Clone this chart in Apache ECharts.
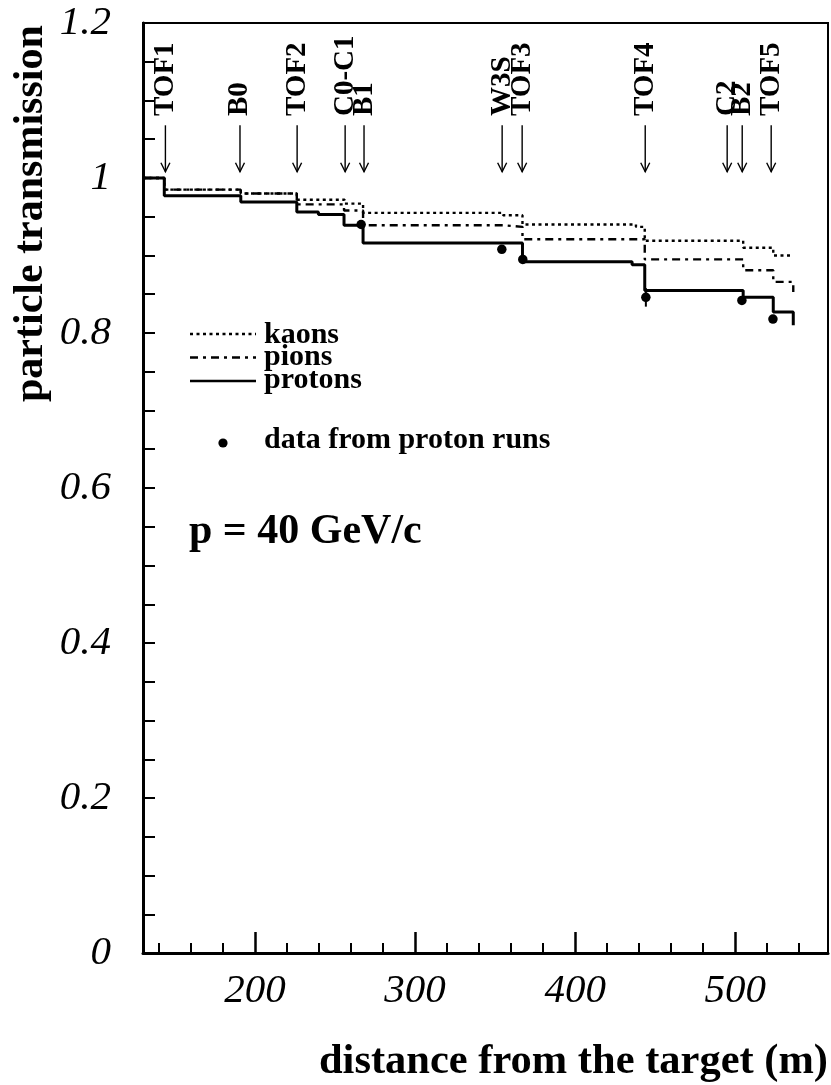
<!DOCTYPE html>
<html><head><meta charset="utf-8">
<script src="https://cdn.jsdelivr.net/npm/echarts@6/dist/echarts.min.js"></script>
<style>html,body{margin:0;padding:0;background:#fff}#c{width:831px;height:1085px}</style>
</head><body><div id="c"></div>
<script>
// detector positions along the beam line (m)
const detectorNames = ['TOF1','B0','TOF2','C0-C1','B1','W3S','TOF3','TOF4','C2','B2','TOF5'];
const detectorPos   = [144, 190.6, 226.3, 256.3, 268.1, 354.4, 366.9, 443.8, 495, 504.4, 522.5];

// step curves: value holds from x[i] to x[i+1]
const kaonX   = [130, 143.3, 191.1, 226.1, 256.0, 267.5, 355.0, 367.1, 438.0, 443.5, 505.0, 523.8, 536.3];
const kaonY   = [1.000, 0.985, 0.980, 0.972, 0.967, 0.955, 0.952, 0.940, 0.937, 0.919, 0.910, 0.900, 0.900];
const pionX   = [130, 143.3, 191.1, 226.1, 255.6, 267.5, 355.0, 367.1, 443.5, 505.0, 523.8, 536.3, 536.3];
const pionY   = [1.000, 0.985, 0.980, 0.966, 0.958, 0.939, 0.937, 0.921, 0.895, 0.881, 0.866, 0.866, 0.853];
const protonX = [130, 143.3, 191.1, 226.1, 239.6, 255.6, 267.5, 367.1, 435.6, 443.5, 505.0, 523.8, 536.3, 536.3];
const protonY = [1.000, 0.977, 0.969, 0.956, 0.953, 0.939, 0.916, 0.892, 0.888, 0.855, 0.846, 0.827, 0.827, 0.810];

// measured points (proton runs)
const runX   = [266.3, 354.2, 367.3, 444.2, 504.2, 523.6];
const runY   = [0.940, 0.908, 0.895, 0.846, 0.842, 0.818];
const runErr = [0, 0, 0, 0.012, 0, 0];

// axis ticks
const xMajorTicks = [200, 300, 400, 500];
const xMinorTicks = [140, 160, 180, 220, 240, 260, 280, 320, 340, 360, 380, 420, 440, 460, 480, 520, 540];

const zip = (a, b) => a.map((v, i) => [v, b[i]]);
const SERIF = '"Liberation Serif", "Times New Roman", serif';

const chart = echarts.init(document.getElementById('c'), null, {renderer: 'canvas'});

const xBase = {
  type: 'value', min: 130, max: 558, position: 'bottom',
  splitLine: {show: false}
};

const option = {
  backgroundColor: '#fff',
  animation: false,
  grid: {left: 143, top: 23, right: 3, bottom: 132, show: true, borderColor: '#000', borderWidth: 2, backgroundColor: 'transparent'},
  xAxis: [
    Object.assign({}, xBase, {
      axisLine: {show: true, lineStyle: {color: '#000', width: 3}},
      axisTick: {show: true, inside: true, length: 21, lineStyle: {color: '#000', width: 2.5}, customValues: xMajorTicks},
      axisLabel: {show: true, customValues: xMajorTicks, margin: 18, color: '#000',
        fontFamily: SERIF, fontStyle: 'italic', fontSize: 41}
    }),
    Object.assign({}, xBase, {
      axisLine: {show: false},
      axisTick: {show: true, inside: true, length: 10, lineStyle: {color: '#000', width: 2}, customValues: xMinorTicks},
      axisLabel: {show: false}
    })
  ],
  yAxis: {
    type: 'value', min: 0, max: 1.2, interval: 0.2,
    splitLine: {show: false},
    axisLine: {show: true, lineStyle: {color: '#000', width: 3}},
    axisTick: {show: true, inside: true, length: 12, lineStyle: {color: '#000', width: 2}},
    minorTick: {show: true, splitNumber: 4, length: 12, lineStyle: {color: '#000', width: 2}},
    axisLabel: {margin: 32, color: '#000', fontFamily: SERIF, fontStyle: 'italic', fontSize: 41}
  },
  graphic: [
    {type: 'text', x: 31, y: 402, rotation: Math.PI / 2,
      style: {text: 'particle transmission', font: 'bold 42px ' + SERIF, fill: '#000', align: 'left', verticalAlign: 'middle'}},
    {type: 'text', x: 828, y: 1062,
      style: {text: 'distance from the target (m)', font: 'bold 42.5px ' + SERIF, fill: '#000', align: 'right', verticalAlign: 'middle'}},
    // legend
    {type: 'line', shape: {x1: 190, y1: 334, x2: 256, y2: 334}, style: {stroke: '#000', lineWidth: 2.4, lineDash: [3, 3.5]}},
    {type: 'line', shape: {x1: 190, y1: 357.5, x2: 256, y2: 357.5}, style: {stroke: '#000', lineWidth: 2.4, lineDash: [8, 5, 3, 5]}},
    {type: 'line', shape: {x1: 190, y1: 381, x2: 256, y2: 381}, style: {stroke: '#000', lineWidth: 2.4}},
    {type: 'circle', shape: {cx: 223, cy: 443, r: 4.6}, style: {fill: '#000'}},
    {type: 'text', x: 264, y: 335, style: {text: 'kaons', font: 'bold 30px ' + SERIF, fill: '#000', align: 'left', verticalAlign: 'middle'}},
    {type: 'text', x: 264, y: 357, style: {text: 'pions', font: 'bold 30px ' + SERIF, fill: '#000', align: 'left', verticalAlign: 'middle'}},
    {type: 'text', x: 264, y: 380, style: {text: 'protons', font: 'bold 30px ' + SERIF, fill: '#000', align: 'left', verticalAlign: 'middle'}},
    {type: 'text', x: 264, y: 440, style: {text: 'data from proton runs', font: 'bold 30px ' + SERIF, fill: '#000', align: 'left', verticalAlign: 'middle'}},
    {type: 'text', x: 189, y: 532, style: {text: 'p = 40 GeV/c', font: 'bold 42px ' + SERIF, fill: '#000', align: 'left', verticalAlign: 'middle'}}
  ],
  series: [
    {type: 'line', name: 'kaons', step: 'end', symbol: 'none', data: zip(kaonX, kaonY),
      lineStyle: {color: '#000', width: 2.4, type: [3, 3.5]}, z: 3},
    {type: 'line', name: 'pions', step: 'end', symbol: 'none', data: zip(pionX, pionY),
      lineStyle: {color: '#000', width: 2.4, type: [8, 5, 3, 5]}, z: 4},
    {type: 'line', name: 'protons', step: 'end', symbol: 'none', data: zip(protonX, protonY),
      lineStyle: {color: '#000', width: 3}, z: 5},
    {type: 'custom', name: 'errors', data: runX.map((x, i) => [x, runY[i], runErr[i]]), z: 6,
      renderItem: function (params, api) {
        const x = api.value(0), y = api.value(1), e = api.value(2);
        if (!e) return null;
        const p1 = api.coord([x, y - e]), p2 = api.coord([x, y + e]);
        return {type: 'line', shape: {x1: p1[0], y1: p1[1], x2: p2[0], y2: p2[1]}, style: {stroke: '#000', lineWidth: 2}};
      }},
    {type: 'scatter', name: 'data from proton runs', symbol: 'circle', symbolSize: 9.5,
      data: zip(runX, runY), itemStyle: {color: '#000', opacity: 1}, z: 7},
    {type: 'custom', name: 'detectors', data: detectorPos.map(x => [x]), z: 8,
      renderItem: function (params, api) {
        const x = api.value(0);
        const top = api.coord([x, 1.068]);
        const bot = api.coord([x, 1.008]);
        const lab = api.coord([x, 1.080]);
        return {type: 'group', children: [
          {type: 'line', shape: {x1: top[0], y1: top[1], x2: bot[0], y2: bot[1]}, style: {stroke: '#000', lineWidth: 1.4}},
          {type: 'polyline', shape: {points: [[bot[0] - 4.5, bot[1] - 9], [bot[0], bot[1]], [bot[0] + 4.5, bot[1] - 9]]},
            style: {stroke: '#000', lineWidth: 1.4, fill: null}},
          {type: 'text', x: lab[0], y: lab[1], rotation: Math.PI / 2,
            style: {text: detectorNames[params.dataIndex], font: 'bold 29px ' + SERIF, fill: '#000', align: 'left', verticalAlign: 'middle'}}
        ]};
      }}
  ]
};
chart.setOption(option);
</script></body></html>
